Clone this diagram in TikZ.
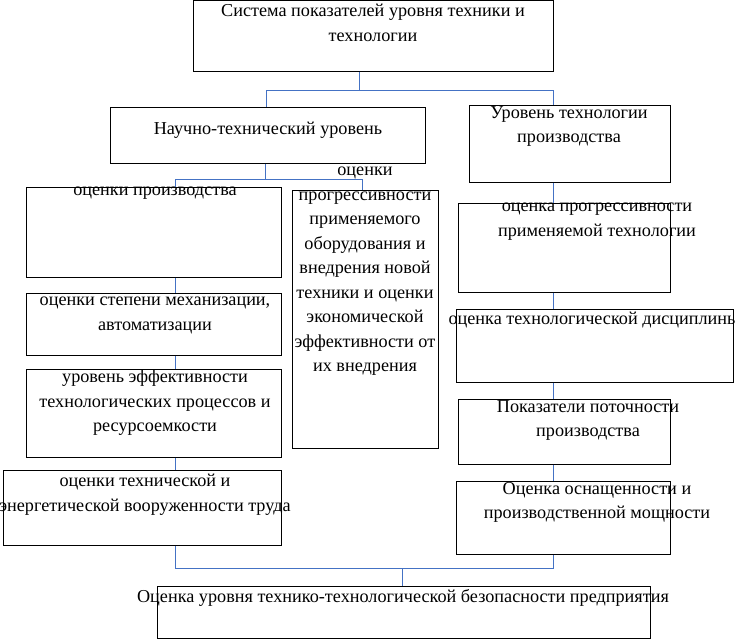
\documentclass[tikz,border=0pt]{standalone}
\usepackage{fontspec}
\setmainfont{Liberation Serif}
\begin{document}
\begin{tikzpicture}[x=1pt,y=-1pt,
  box/.style={draw=black,line width=1pt,inner sep=0},
  con/.style={draw={rgb,255:red,68;green,114;blue,196},line width=0.8pt},
  txt/.style={anchor=north,inner sep=0,align=center,font=\fontsize{18.2}{24.5}\selectfont}]
\useasboundingbox (0,0) rectangle (735,643);
\newcommand\bx[5]{\node[box,minimum width=#4-#2,minimum height=#5-#3] (#1) at ({(#2+#4)/2},{(#3+#5)/2}) {};}
\bx{top}{193}{0}{553}{71}
\bx{nt}{110}{107}{425}{163}
\bx{ut}{469}{105}{670}{182}
\bx{l1}{26}{187}{281}{277}
\bx{l2}{26}{293}{281}{355}
\bx{l3}{26}{369}{281}{457}
\bx{l4}{3}{470}{281}{545}
\bx{m}{292}{190}{438}{448}
\bx{r1}{458}{203}{670}{292}
\bx{r2}{456}{309}{733}{382}
\bx{r3}{458}{399}{670}{464}
\bx{r4}{456}{481}{670}{554}
\bx{bot}{157}{586}{650}{638}
\node[txt] (ttop) at (373,4) {Система показателей уровня техники и\\технологии};
\node[txt] (tnt) at (268,122) {Научно-технический уровень};
\node[txt] (tut) at (569,106) {Уровень технологии\\производства};
\node[txt] (tl1) at (155,187) {оценки производства};
\node[txt] (tl2) at (155,297) {оценки степени механизации,\\автоматизации};
\node[txt] (tl3) at (155,370) {уровень эффективности\\технологических  процессов и\\ресурсоемкости};
\node[txt] (tl4) at (145,474) {оценки технической и\\энергетической вооруженности труда};
\node[txt] (tm) at (365,167) {оценки\\прогрессивности\\применяемого\\оборудования и\\внедрения новой\\техники и оценки\\экономической\\эффективности от\\их внедрения};
\node[txt] (tr1) at (597,203) {оценка прогрессивности\\применяемой технологии};
\node[txt] (tr2) at (594,312) {оценка технологической дисциплины};
\node[txt] (tr3) at (588,400) {Показатели поточности\\производства};
\node[txt] (tr4) at (597,482) {Оценка оснащенности и\\производственной мощности};
\node[txt] (tbot) at (403,589) {Оценка уровня технико-технологической безопасности предприятия};
\coordinate (j1) at (359,90);
\coordinate (j2) at (265,179);
\coordinate (j3) at (402,568);
\draw[con] (top.south -| j1) -- (j1);
\draw[con] (nt.north -| 266,0) -- (266,90) -- (553,90) -- (ut.north -| 553,0);
\draw[con] (nt.south -| j2) -- (j2);
\draw[con] (l1.north -| 175,0) -- (175,179) -- (362,179) -- (m.north -| 362,0);
\draw[con] (l1.south -| 175,0) -- (l2.north -| 175,0);
\draw[con] (l2.south -| 175,0) -- (l3.north -| 175,0);
\draw[con] (l3.south -| 175,0) -- (l4.north -| 175,0);
\draw[con] (l4.south -| 175,0) -- (175,568) -- (553,568) -- (r4.south -| 553,0);
\draw[con] (j3) -- (bot.north -| j3);
\draw[con] (ut.south -| 553,0) -- (r1.north -| 553,0);
\draw[con] (r1.south -| 553,0) -- (r2.north -| 553,0);
\draw[con] (r2.south -| 553,0) -- (r3.north -| 553,0);
\draw[con] (r3.south -| 553,0) -- (r4.north -| 553,0);
\end{tikzpicture}
\end{document}
